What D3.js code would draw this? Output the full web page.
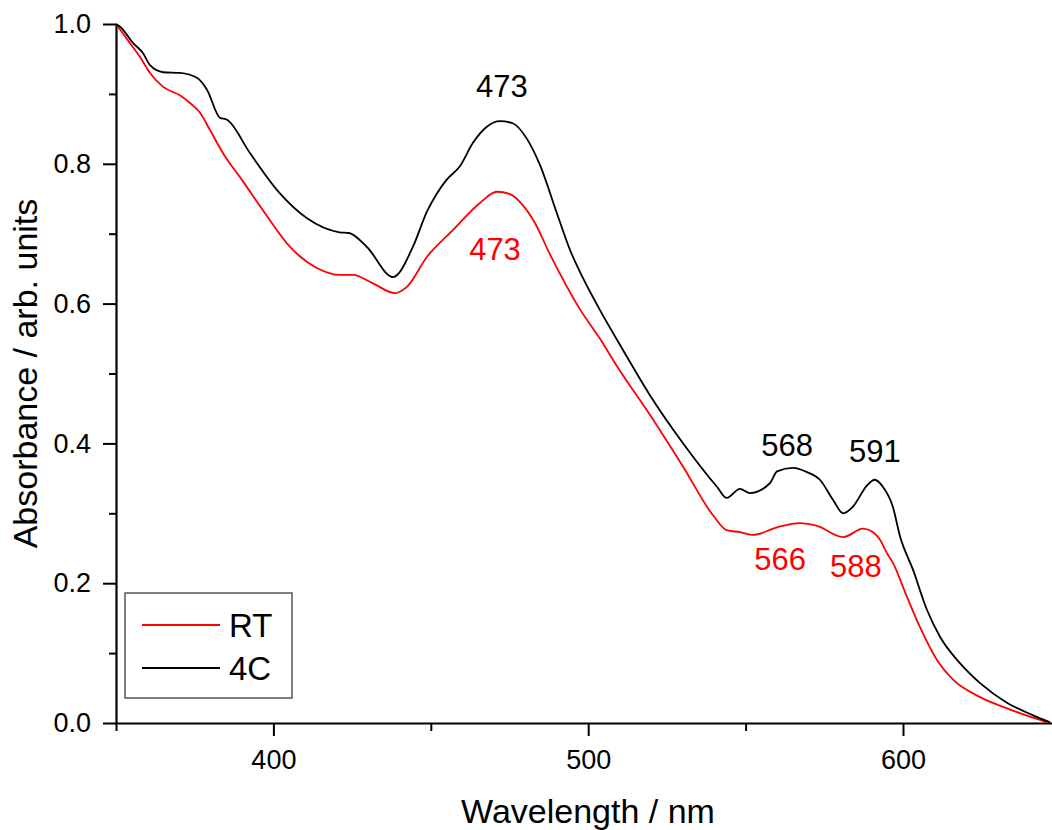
<!DOCTYPE html>
<html>
<head>
<meta charset="utf-8">
<script src="https://cdn.jsdelivr.net/npm/d3@7"></script>
<style>
  body { margin: 0; background: #fff; }
  svg { font-family: "Liberation Sans", Arial, sans-serif; }
</style>
</head>
<body>
<div class="container"></div>
<script>
// 4C spectrum (black)
const wl4C = [350, 351.3, 355.4, 358.6, 360.8, 365, 370.3, 375.7, 378.9, 383, 385.3, 392.6, 402, 410.7, 421, 424, 429.7, 438, 444.3, 448.8, 452, 455, 459.3, 463.4, 467.8, 472, 476, 480.5, 484.7, 490, 494.2, 498.4, 503.7, 511, 519.6, 530, 540.9, 544, 548.2, 551.4, 557.7, 560, 565, 569.5, 573.6, 577.8, 581, 584, 588.6, 591, 593.6, 596.8, 599, 603.2, 607.6, 611.8, 618, 624.5, 633, 641.3, 646.7];
const abs4C = [1.0, 0.996, 0.973, 0.958, 0.941, 0.931, 0.930, 0.923, 0.906, 0.866, 0.863, 0.815, 0.758, 0.722, 0.702, 0.701, 0.681, 0.638, 0.681, 0.732, 0.758, 0.777, 0.797, 0.830, 0.853, 0.861, 0.858, 0.836, 0.798, 0.730, 0.677, 0.636, 0.591, 0.534, 0.469, 0.401, 0.338, 0.322, 0.335, 0.329, 0.343, 0.360, 0.365, 0.359, 0.348, 0.319, 0.300, 0.309, 0.340, 0.348, 0.338, 0.309, 0.268, 0.219, 0.162, 0.123, 0.086, 0.057, 0.029, 0.011, 0.001];

// RT spectrum (red)
const wlRT = [350, 354.4, 357.6, 360.8, 365, 370.3, 373.5, 376.7, 379.9, 384, 390, 398, 405.3, 413.8, 421.2, 425.3, 431.6, 438.6, 442.4, 448.8, 457, 465.6, 471, 475, 479, 483, 487.9, 497.5, 503.7, 509.2, 519.6, 530.1, 540, 544, 548.2, 552.4, 560, 567.3, 572.7, 581, 587.3, 590.5, 592.7, 594.9, 596.8, 601.3, 605.4, 610.8, 615.9, 624.5, 633, 640.3, 645.7];
const absRT = [1.0, 0.973, 0.953, 0.930, 0.910, 0.898, 0.887, 0.873, 0.848, 0.815, 0.777, 0.725, 0.681, 0.651, 0.641, 0.641, 0.629, 0.615, 0.624, 0.667, 0.705, 0.744, 0.760, 0.757, 0.742, 0.716, 0.670, 0.591, 0.550, 0.510, 0.441, 0.367, 0.295, 0.276, 0.273, 0.269, 0.280, 0.286, 0.282, 0.266, 0.278, 0.273, 0.262, 0.243, 0.229, 0.180, 0.137, 0.090, 0.062, 0.037, 0.021, 0.009, 0.001];

// peak labels
const peakText = ["473", "568", "591", "473", "566", "588"];
const peakWl = [472.6, 563.2, 591.1, 470.4, 561, 585];
const peakAbs = [0.896, 0.382, 0.373, 0.662, 0.219, 0.209];
const peakColor = ["#000", "#000", "#000", "#ff0000", "#ff0000", "#ff0000"];

const xMajor = [400, 500, 600];
const xMinor = [350, 450, 550, 650];
const yMajor = [0, 0.2, 0.4, 0.6, 0.8, 1.0];
const yMinor = [0.1, 0.3, 0.5, 0.7, 0.9];

const w = 1052;
const h = 830;
const mLeft = 116, mTop = 24, mBottom = 723;

const x = d3.scaleLinear().domain([350, 650]).range([mLeft, mLeft + 3.148 * 300]);
const y = d3.scaleLinear().domain([0, 1]).range([mBottom, mTop]);

const svg = d3.select(".container")
  .append("svg")
  .attr("width", w)
  .attr("height", h);

// axes
svg.append("g")
  .attr("transform", `translate(0,${mBottom})`)
  .call(d3.axisBottom(x).tickValues(xMajor).tickSize(13).tickSizeOuter(0).tickPadding(14));
svg.append("g")
  .attr("transform", `translate(0,${mBottom})`)
  .call(d3.axisBottom(x).tickValues(xMinor).tickSize(8).tickFormat("").tickSizeOuter(0))
  .select(".domain").remove();

svg.append("g")
  .attr("transform", `translate(${mLeft},0)`)
  .call(d3.axisLeft(y).tickValues(yMajor).tickSize(13).tickSizeOuter(0).tickPadding(12).tickFormat(d3.format(".1f")));
svg.append("g")
  .attr("transform", `translate(${mLeft},0)`)
  .call(d3.axisLeft(y).tickValues(yMinor).tickSize(7).tickFormat("").tickSizeOuter(0))
  .select(".domain").remove();

svg.selectAll(".domain").attr("stroke-width", 2.2);
svg.selectAll(".tick line").attr("stroke-width", 2);
svg.selectAll(".tick text").attr("font-size", 27).attr("fill", "#000")
  .attr("font-family", "'Liberation Sans', Arial, sans-serif");

// axis titles
svg.append("text")
  .attr("x", 588).attr("y", 823)
  .attr("text-anchor", "middle")
  .attr("font-size", 34)
  .text("Wavelength / nm");

svg.append("text")
  .attr("transform", `translate(37,${(mTop + mBottom) / 2}) rotate(-90)`)
  .attr("text-anchor", "middle")
  .attr("font-size", 34)
  .text("Absorbance / arb. units");

// curves
const line = d3.line()
  .x(d => x(d[0]))
  .y(d => y(d[1]))
  .curve(d3.curveMonotoneX);

svg.append("path")
  .datum(d3.zip(wlRT, absRT))
  .attr("d", line)
  .attr("fill", "none")
  .attr("stroke", "#ff0000")
  .attr("stroke-width", 1.8);

svg.append("path")
  .datum(d3.zip(wl4C, abs4C))
  .attr("d", line)
  .attr("fill", "none")
  .attr("stroke", "#000")
  .attr("stroke-width", 1.8);

// peak labels
svg.selectAll(".peak")
  .data(peakText)
  .enter()
  .append("text")
  .attr("class", "peak")
  .attr("x", (d, i) => x(peakWl[i]))
  .attr("y", (d, i) => y(peakAbs[i]))
  .attr("text-anchor", "middle")
  .attr("font-size", 31)
  .attr("fill", (d, i) => peakColor[i])
  .text(d => d);

// legend
const legend = svg.append("g");
legend.append("rect")
  .attr("x", 125).attr("y", 593)
  .attr("width", 167).attr("height", 105)
  .attr("fill", "#fff")
  .attr("stroke", "#555")
  .attr("stroke-width", 1.5);

const legendNames = ["RT", "4C"];
const legendColors = ["#ff0000", "#000"];
legendNames.forEach((n, i) => {
  const ly = 625 + i * 43;
  legend.append("line")
    .attr("x1", 142).attr("x2", 220)
    .attr("y1", ly).attr("y2", ly)
    .attr("stroke", legendColors[i])
    .attr("stroke-width", 1.8);
  legend.append("text")
    .attr("x", 229).attr("y", ly + 12)
    .attr("font-size", 33)
    .text(n);
});
</script>
</body>
</html>
